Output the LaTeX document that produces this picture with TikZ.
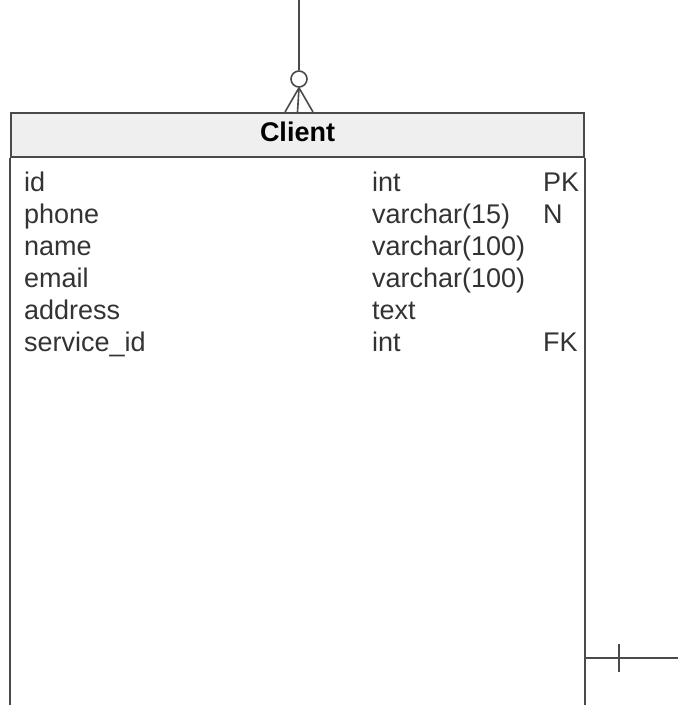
\documentclass[tikz,border=0pt]{standalone}
\usepackage{fontspec}
\setmainfont{Liberation Sans}
\usetikzlibrary{positioning,calc}
\definecolor{edgegray}{HTML}{4A4A4A}
\definecolor{headgray}{HTML}{EFEFEF}
\definecolor{textgray}{HTML}{333333}
\tikzstyle{field}=[anchor=base west,inner sep=0pt,font=\fontsize{27}{32}\selectfont,text=textgray]
\tikzstyle{link}=[draw=edgegray,line width=1.6pt]

\begin{document}
\begin{tikzpicture}[x=1pt,y=-1pt]
\useasboundingbox (0,0) rectangle (678,705);
% entity header
\node[draw=edgegray,fill=headgray,line width=2pt,minimum width=573pt,minimum height=44pt,
      text height=19pt,text depth=6pt,font=\fontsize{27}{32}\selectfont\bfseries,text=black] (head) at (297.5,135) {Client};
\draw[edgegray,line width=2pt] (head.south west) -- ++(0,560);
\draw[edgegray,line width=2pt] (head.south east) -- ++(0,560);
% columns
\foreach \fname/\ftype/\fkey [count=\i] in {id/int/PK, phone/varchar(15)/N, name/varchar(100)/,
    email/varchar(100)/, address/text/, service\_id/int/FK} {
  \node[field] (n\i) at (24,159+32*\i) {\fname};
  \node[field] (t\i) at (372,159+32*\i) {\ftype};
  \node[field] (k\i) at (543,159+32*\i) {\fkey};
}
% zero-or-many relation on top
\coordinate (topend) at (299,0);
\node[circle,link,inner sep=0pt,minimum size=16pt] (ring) at (299,79) {};
\draw[link] (topend) -- (ring.north);
\draw[link] (ring.south) -- (head.north -| 285,0);
\draw[link] (ring.south) -- (head.north);
\draw[link] (ring.south) -- (head.north -| 313,0);
% one relation on the right
\coordinate (rel) at (head.east |- 0,658);
\coordinate (rightend) at (678,658);
\draw[link] (rel) -- (rightend);
\draw[link] ($(rel)+(34,-14)$) -- ($(rel)+(34,14)$);
\end{tikzpicture}
\end{document}
